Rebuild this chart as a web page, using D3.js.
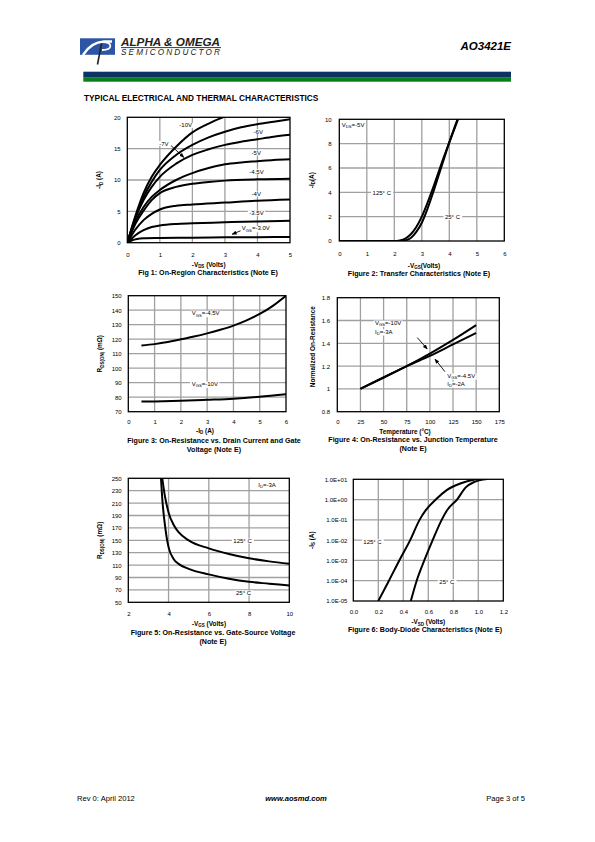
<!DOCTYPE html>
<html><head><meta charset="utf-8">
<script src="https://cdn.jsdelivr.net/npm/d3@7"></script>
<style>
body{margin:0;background:#fff}
svg{display:block}
text{font-family:"Liberation Sans",Arial,Helvetica,sans-serif}
</style>
</head><body>
<svg id="page" width="595" height="842"></svg>
<script>
// ---------------- DATA ----------------
// Fig 1: On-region characteristics, -ID (A) vs -VDS (V)
const fig1Vgs10  = [[0,0],[0.25,4.3],[0.5,7.9],[0.75,10.5],[1,12.4],[1.5,15.3],[2,17.6],[2.5,19.0],[3,20.1],[3.3,20.6]];
const fig1Vgs7   = [[0,0],[0.25,4.1],[0.5,7.3],[0.75,9.7],[1,11.6],[1.5,14],[2,15.6],[2.5,16.8],[3,17.7],[3.5,18.4],[4,18.9],[4.5,19.3],[5,19.7]];
const fig1Vgs6   = [[0,0],[0.25,3.9],[0.5,6.8],[0.75,8.9],[1,10.5],[1.5,12.6],[2,14],[2.5,14.9],[3,15.6],[3.5,16.1],[4,16.5],[4.5,16.9],[5,17.2]];
const fig1Vgs5   = [[0,0],[0.25,3.4],[0.5,5.7],[0.75,7.3],[1,8.4],[1.5,10],[2,11.1],[2.5,11.9],[3,12.5],[3.5,12.8],[4,13],[4.5,13.2],[5,13.3]];
const fig1Vgs45  = [[0,0],[0.25,3],[0.5,5.1],[0.75,6.8],[1,7.9],[1.5,8.9],[2,9.4],[2.5,9.7],[3,9.9],[4,10.1],[5,10.2]];
const fig1Vgs4   = [[0,0],[0.25,2.1],[0.5,3.6],[0.75,4.6],[1,5.3],[1.5,5.9],[2,6.1],[3,6.4],[4,6.7],[5,6.9]];
const fig1Vgs35  = [[0,0],[0.25,1.2],[0.5,2.0],[0.75,2.5],[1,2.75],[1.5,3.0],[2,3.1],[3,3.25],[4,3.4],[5,3.5]];
const fig1Vgs3   = [[0,0],[0.15,0.4],[0.3,0.6],[0.5,0.7],[1,0.75],[2,0.8],[3,0.85],[4,0.88],[5,0.9]];
const fig1XTicks = [0,1,2,3,4,5];
const fig1YTicks = [0,5,10,15,20];

// Fig 2: Transfer characteristics, -ID (A) vs -VGS (V)
const fig2T125 = [[0,0],[2.0,0],[2.2,0.05],[2.4,0.2],[2.6,0.55],[2.8,1.15],[3.0,2.0],[3.2,3.1],[3.4,4.3],[3.6,5.6],[3.8,6.9],[4.0,8.1],[4.2,9.3],[4.35,10.2]];
const fig2T25  = [[0,0],[2.2,0],[2.4,0.05],[2.6,0.25],[2.8,0.75],[3.0,1.5],[3.2,2.6],[3.4,3.9],[3.6,5.3],[3.8,6.7],[4.0,8.1],[4.2,9.4],[4.35,10.3]];
const fig2XTicks = [0,1,2,3,4,5,6];
const fig2YTicks = [0,2,4,6,8,10];

// Fig 3: RDS(ON) (mOhm) vs -ID (A)
const fig3Vgs45 = [[0.5,115.7],[1,116.6],[1.5,118],[2,119.9],[2.5,121.8],[3,124],[3.5,126.5],[4,129.4],[4.5,133],[5,137.4],[5.5,143],[6,150]];
const fig3Vgs10 = [[0.5,77],[1,77.1],[2,77.5],[3,78.2],[4,79],[5,80.3],[6,82]];
const fig3XTicks = [0,1,2,3,4,5,6];
const fig3YTicks = [70,80,90,100,110,120,130,140,150];

// Fig 4: Normalized on-resistance vs temperature (C)
const fig4Vgs10 = [[25,1.0],[50,1.1],[75,1.2],[100,1.31],[125,1.43],[150,1.56]];
const fig4Vgs45 = [[25,1.0],[50,1.1],[75,1.2],[100,1.29],[125,1.39],[150,1.49]];
const fig4XTicks = [0,25,50,75,100,125,150,175];
const fig4YTicks = [0.8,1,1.2,1.4,1.6,1.8];

// Fig 5: RDS(ON) (mOhm) vs -VGS (V)
const fig5T125 = [[3.68,252],[3.8,225],[4,195],[4.25,175],[4.5,163],[5,150],[6,137],[7,128],[8,121],[9,116],[10,112]];
const fig5T25  = [[3.62,252],[3.7,212],[3.8,180],[3.9,156],[4.0,139],[4.25,120],[4.5,112],[5,104],[6,95],[7,88],[8,83],[9,80],[10,77]];
const fig5XTicks = [2,4,6,8,10];
const fig5YTicks = [50,70,90,110,130,150,170,190,210,230,250];

// Fig 6: Body diode, -IS (A) vs -VSD (V)
const fig6T125 = [[0.2,1e-5],[0.285,1e-4],[0.368,1e-3],[0.455,1e-2],[0.53,1e-1],[0.58,0.3],[0.66,1],[0.75,3],[0.85,6],[0.98,10],[1.0,10.5]];
const fig6T25  = [[0.46,1e-5],[0.507,1e-4],[0.568,1e-3],[0.635,1e-2],[0.707,1e-1],[0.75,0.3],[0.83,1],[0.9,4],[0.97,7.5],[1.05,10],[1.07,10.5]];
const fig6XTicks = [0,0.2,0.4,0.6,0.8,1.0,1.2];
const fig6YTicks = [1e-5,1e-4,1e-3,1e-2,1e-1,1,10];

// ---------------- DRAWING ----------------
const svg = d3.select("#page");
const FONT = '"Liberation Sans",Arial,Helvetica,sans-serif';
const defs = svg.append("defs");
defs.append("marker").attr("id","arr").attr("viewBox","0 0 10 10").attr("refX",9).attr("refY",5)
  .attr("markerWidth",5).attr("markerHeight",5).attr("markerUnits","userSpaceOnUse").attr("orient","auto")
  .append("path").attr("d","M0,1 L10,5 L0,9 z").attr("fill","#000");

function rich(t, s, fs){
  const parts = s.split(/(_\{[^}]*\})/);
  let sub = false;
  parts.forEach(p => {
    if(!p) return;
    if(p.startsWith("_{")){
      t.append("tspan").attr("dy", fs*0.22).attr("font-size", fs*0.7).text(p.slice(2,-1));
      sub = true;
    } else {
      const ts = t.append("tspan").text(p);
      if(sub){ ts.attr("dy", -fs*0.22); sub = false; }
    }
  });
  return t;
}

function addText(g, x, y, s, o={}){
  const fs = o.fs || 6;
  const t = g.append("text").attr("x",x).attr("y",y).attr("font-size",fs)
    .attr("font-weight",o.bold?"bold":"normal").attr("text-anchor",o.anchor||"start");
  if(o.rotate) t.attr("transform",`rotate(-90,${x},${y})`);
  rich(t, s, fs);
  if(o.bg){
    const b = t.node().getBBox();
    g.insert("rect", () => t.node()).attr("x",b.x-1.5).attr("y",b.y+0.5).attr("width",b.width+3).attr("height",b.height-1).attr("fill","#fff");
  }
  return t;
}

let clipN = 0;
function chart(c){
  const g = svg.append("g");
  const x = d3.scaleLinear().domain(c.xd).range([c.L, c.R]);
  const y = (c.log ? d3.scaleLog() : d3.scaleLinear()).domain(c.yd).range([c.B, c.T]);
  const id = "clip" + (++clipN);
  defs.append("clipPath").attr("id", id).append("rect")
    .attr("x", c.L).attr("y", c.T).attr("width", c.R-c.L).attr("height", c.B-c.T);
  // grid
  g.append("g").selectAll("line").data(c.xg).join("line")
    .attr("x1", d=>x(d)).attr("x2", d=>x(d)).attr("y1", c.T).attr("y2", c.B)
    .attr("stroke", "#a0a0a0").attr("stroke-width", 1.3);
  g.append("g").selectAll("line").data(c.yg).join("line")
    .attr("y1", d=>y(d)).attr("y2", d=>y(d)).attr("x1", c.L).attr("x2", c.R)
    .attr("stroke", "#a0a0a0").attr("stroke-width", 1.3);
  // labels with white background
  const lg = g.append("g");
  (c.labels||[]).forEach(l => addText(lg, x(l.x), y(l.y), l.t, {fs:6, bg:true}));
  // curves
  const line = d3.line().x(d=>x(d[0])).y(d=>y(d[1])).curve(d3.curveMonotoneX);
  g.append("g").attr("clip-path", `url(#${id})`).selectAll("path").data(c.curves).join("path")
    .attr("d", line).attr("fill", "none").attr("stroke", "#000").attr("stroke-width", 2)
    .attr("stroke-linejoin","round");
  // arrows
  (c.arrows||[]).forEach(a => {
    g.append("line").attr("x1", x(a[0][0])).attr("y1", y(a[0][1])).attr("x2", x(a[1][0])).attr("y2", y(a[1][1]))
      .attr("stroke","#000").attr("stroke-width",0.9).attr("marker-end","url(#arr)");
  });
  // frame
  g.append("rect").attr("x", c.L).attr("y", c.T).attr("width", c.R-c.L).attr("height", c.B-c.T)
    .attr("fill","none").attr("stroke","#000").attr("stroke-width",1.3);
  // axes
  const xa = d3.axisBottom(x).tickValues(c.xt).tickFormat(c.xf).tickSize(0).tickPadding(c.xpad);
  g.append("g").attr("transform", `translate(0,${c.B})`).call(xa)
    .attr("font-size", 6).attr("font-family", FONT)
    .call(s => s.select(".domain").remove());
  const ya = d3.axisLeft(y).tickValues(c.yt).tickFormat(c.yf).tickSize(0).tickPadding(c.ypad);
  g.append("g").attr("transform", `translate(${c.L},0)`).call(ya)
    .attr("font-size", 6).attr("font-family", FONT)
    .call(s => s.select(".domain").remove());
  // titles
  const cx = c.cx != null ? c.cx : (c.L + c.R)/2;
  addText(g, cx, c.xtY, c.xtitle, {fs:6.4, bold:true, anchor:"middle"});
  addText(g, c.ytX, (c.T + c.B)/2 + (c.ytDy||0), c.ytitle, {fs:6.4, bold:true, anchor:"middle", rotate:true});
  c.caption.forEach((s, i) => addText(g, c.capX != null ? c.capX : cx, c.capY + i*8.8, s, {fs:7.1, bold:true, anchor:"middle"}));
  return g;
}

// ---- Header ----
const hdr = svg.append("g");
hdr.append("rect").attr("x",80).attr("y",38.3).attr("width",35).attr("height",16.5).attr("fill","#2d55a5");
hdr.append("path").attr("d","M83,55 C88,47 94,42 104,41.5 L112,41.5").attr("fill","none").attr("stroke","#fff").attr("stroke-width",2.4);
hdr.append("path").attr("d","M103,42 C113,42 113,50 102,50").attr("fill","none").attr("stroke","#fff").attr("stroke-width",1.8);
hdr.append("path").attr("d","M101.5,43.5 L97.5,64.5").attr("fill","none").attr("stroke","#222").attr("stroke-width",1.6);
hdr.append("text").attr("x",121).attr("y",45.5).attr("font-family",'"Liberation Serif","Times New Roman",serif')
  .attr("font-weight","bold").attr("font-style","italic").attr("font-size",10.2).attr("fill","#222")
  .attr("textLength",99).attr("lengthAdjust","spacingAndGlyphs").text("ALPHA & OMEGA");
hdr.append("line").attr("x1",121).attr("x2",221).attr("y1",47.6).attr("y2",47.6).attr("stroke","#222").attr("stroke-width",0.9);
hdr.append("text").attr("x",121).attr("y",55).attr("font-family",'"Liberation Serif","Times New Roman",serif')
  .attr("font-style","italic").attr("font-size",8.2).attr("fill","#222")
  .attr("textLength",99).attr("lengthAdjust","spacing").text("SEMICONDUCTOR");
hdr.append("text").attr("x",511).attr("y",49.5).attr("text-anchor","end").attr("font-family",FONT)
  .attr("font-weight","bold").attr("font-style","italic").attr("font-size",11.5).text("AO3421E");
hdr.append("rect").attr("x",83.3).attr("y",71.7).attr("width",427.7).attr("height",6).attr("fill","#0b3265");
hdr.append("rect").attr("x",83.3).attr("y",77.7).attr("width",427.7).attr("height",4).attr("fill","#0a7d1b");
hdr.append("text").attr("x",84).attr("y",100.8).attr("font-family",FONT).attr("font-weight","bold")
  .attr("font-size",8.3).text("TYPICAL ELECTRICAL AND THERMAL CHARACTERISTICS");

// ---- Fig 1 ----
chart({
  L:127.3, R:290, T:117.3, B:242.7, xd:[0,5], yd:[0,20],
  xg:[1,2,3,4], yg:[5,10,15], xt:fig1XTicks, yt:fig1YTicks, xf:d3.format("d"), yf:d3.format("d"),
  xpad:9.9, ypad:6.6,
  curves:[fig1Vgs10,fig1Vgs7,fig1Vgs6,fig1Vgs5,fig1Vgs45,fig1Vgs4,fig1Vgs35,fig1Vgs3],
  labels:[{x:1.6,y:18.4,t:"-10V"},{x:0.98,y:15.5,t:"-7V"},{x:3.88,y:17.4,t:"-6V"},{x:3.82,y:14.0,t:"-5V"},
          {x:3.75,y:11.0,t:"-4.5V"},{x:3.82,y:7.45,t:"-4V"},{x:3.75,y:4.4,t:"-3.5V"},{x:3.52,y:1.95,t:"V_{GS}=-3.0V"}],
  arrows:[[[1.34,15.5],[1.74,13.6]],[[3.48,1.9],[3.22,1.35]]],
  xtitle:"-V_{DS} (Volts)", xtY:266.6, ytitle:"-I_{D} (A)", ytX:101.3,
  caption:["Fig 1: On-Region Characteristics (Note E)"], capY:274.6, capX:208
});

// ---- Fig 2 ----
chart({
  L:339.3, R:504.3, T:119.3, B:241, xd:[0,6], yd:[0,10],
  xg:[1,2,3,4,5], yg:[2,4,6,8], xt:fig2XTicks, yt:fig2YTicks, xf:d3.format("d"), yf:d3.format("d"),
  xpad:10.9, ypad:7.6,
  curves:[fig2T125, fig2T25],
  labels:[{x:0.09,y:9.37,t:"V_{DS}=-5V"},{x:1.21,y:3.8,t:"125° C"},{x:3.84,y:1.78,t:"25° C"}],
  xtitle:"-V_{GS}(Volts)", xtY:267.6, cx:424, ytitle:"-I_{D}(A)", ytX:314,
  caption:["Figure 2: Transfer Characteristics (Note E)"], capY:275.5, capX:419
});

// ---- Fig 3 ----
chart({
  L:128.3, R:286, T:295.7, B:411.7, xd:[0,6], yd:[70,150],
  xg:[1,2,3,4,5], yg:[80,90,100,110,120,130,140], xt:fig3XTicks, yt:fig3YTicks, xf:d3.format("d"), yf:d3.format("d"),
  xpad:7.9, ypad:6.6,
  curves:[fig3Vgs45, fig3Vgs10],
  labels:[{x:2.41,y:136.5,t:"V_{GS}=-4.5V"},{x:2.41,y:87.7,t:"V_{GS}=-10V"}],
  xtitle:"-I_{D} (A)", xtY:432.6, cx:205, ytitle:"R_{DS(ON)} (mΩ)", ytX:102.3,
  caption:["Figure 3: On-Resistance vs. Drain Current and Gate","Voltage (Note E)"], capY:443.3, capX:214
});

// ---- Fig 4 ----
chart({
  L:337.3, R:499.3, T:297.7, B:411.7, xd:[0,175], yd:[0.8,1.8],
  xg:[25,50,75,100,125,150], yg:[1,1.2,1.4,1.6], xt:fig4XTicks, yt:fig4YTicks, xf:d3.format("d"), yf:d=>d===1?"1":d3.format(".1f")(d),
  xpad:7.9, ypad:7.3,
  curves:[fig4Vgs10, fig4Vgs45],
  labels:[{x:40.7,y:1.56,t:"V_{GS}=-10V"},{x:40.7,y:1.484,t:"I_{D}=-3A"},{x:118.8,y:1.096,t:"V_{GS}=-4.5V"},{x:118.8,y:1.025,t:"I_{D}=-2A"}],
  arrows:[[[86.4,1.45],[97.2,1.35]],[[116.3,1.151],[105.5,1.262]]],
  xtitle:"Temperature (°C)", xtY:433.6, cx:405, ytitle:"Normalized On-Resistance", ytX:315, ytDy:-8,
  caption:["Figure 4: On-Resistance vs. Junction Temperature","(Note E)"], capY:441.8, capX:413
});

// ---- Fig 5 ----
chart({
  L:128.3, R:289.3, T:478.3, B:602.3, xd:[2,10], yd:[50,250],
  xg:[4,6,8], yg:[70,90,110,130,150,170,190,210,230], xt:fig5XTicks, yt:fig5YTicks, xf:d3.format("d"), yf:d3.format("d"),
  xpad:9.6, ypad:6.6,
  curves:[fig5T125, fig5T25],
  labels:[{x:8.46,y:236,t:"I_{D}=-3A"},{x:7.22,y:145.6,t:"125° C"},{x:7.35,y:61.8,t:"25° C"}],
  xtitle:"-V_{GS} (Volts)", xtY:626, cx:209, ytitle:"R_{DS(ON)} (mΩ)", ytX:102.3,
  caption:["Figure 5: On-Resistance vs. Gate-Source Voltage","(Note E)"], capY:635.3, capX:213
});

// ---- Fig 6 ----
chart({
  L:353.3, R:503.3, T:479.3, B:601, xd:[0,1.2], yd:[1e-5,10], log:true,
  xg:[0.2,0.4,0.6,0.8,1.0], yg:[1e-4,1e-3,1e-2,1e-1,1], xt:fig6XTicks, yt:fig6YTicks,
  xf:d3.format(".1f"),
  yf:d => { const e = Math.round(Math.log10(d)); return "1.0E" + (e<0?"-":"+") + String(Math.abs(e)).padStart(2,"0"); },
  xpad:8.6, ypad:6,
  curves:[fig6T125, fig6T25],
  labels:[{x:0.08,y:6.7e-3,t:"125° C"},{x:0.688,y:7.1e-5,t:"25° C"}],
  xtitle:"-V_{SD} (Volts)", xtY:624.4, ytitle:"-I_{S} (A)", ytX:314,
  caption:["Figure 6: Body-Diode Characteristics (Note E)"], capY:632.4, capX:425
});

// ---- Footer ----
const ft = svg.append("g").attr("font-family", FONT).attr("font-size", 7.6);
ft.append("text").attr("x",77).attr("y",800.5).text("Rev 0: April 2012");
ft.append("text").attr("x",296).attr("y",800.5).attr("text-anchor","middle").attr("font-weight","bold").attr("font-style","italic").text("www.aosmd.com");
ft.append("text").attr("x",525).attr("y",800.5).attr("text-anchor","end").text("Page 3 of 5");
</script>
</body></html>
